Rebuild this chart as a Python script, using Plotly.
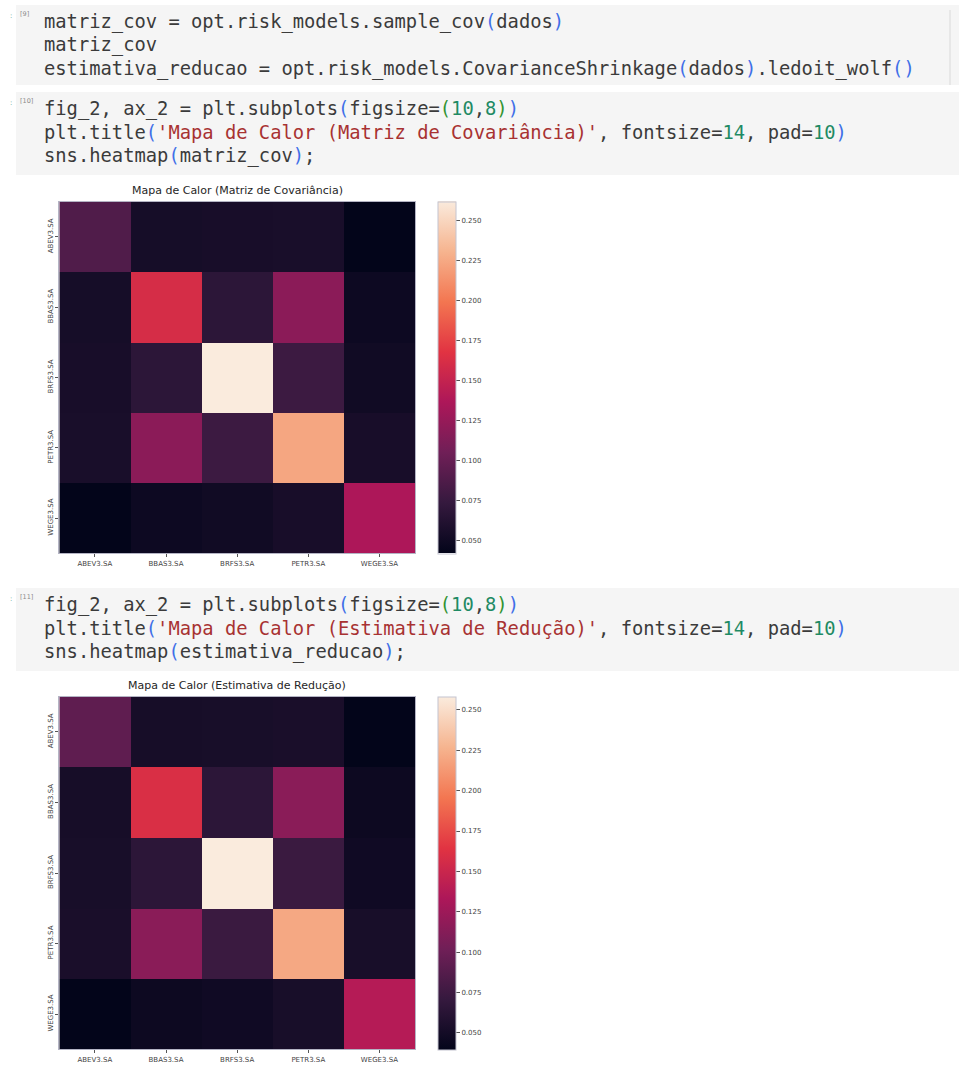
import plotly.graph_objects as go

W, H = 959, 1070

# ---- data -------------------------------------------------------------
tickers = ["ABEV3.SA", "BBAS3.SA", "BRFS3.SA", "PETR3.SA", "WEGE3.SA"]

# sample covariance (annualised)
cov_abev = [0.0880, 0.0540, 0.0550, 0.0560, 0.0419]
cov_bbas = [0.0540, 0.1605, 0.0680, 0.1187, 0.0485]
cov_brfs = [0.0550, 0.0680, 0.2619, 0.0770, 0.0507]
cov_petr = [0.0560, 0.1187, 0.0770, 0.2235, 0.0550]
cov_wege = [0.0419, 0.0485, 0.0507, 0.0550, 0.1365]

# Ledoit-Wolf shrinkage estimate
lw_abev = [0.0930, 0.0520, 0.0530, 0.0540, 0.0397]
lw_bbas = [0.0520, 0.1600, 0.0655, 0.1156, 0.0460]
lw_brfs = [0.0530, 0.0655, 0.2583, 0.0736, 0.0480]
lw_petr = [0.0540, 0.1156, 0.0736, 0.2210, 0.0530]
lw_wege = [0.0397, 0.0460, 0.0480, 0.0530, 0.1380]

cbar_ticks = [0.050, 0.075, 0.100, 0.125, 0.150, 0.175, 0.200, 0.225, 0.250]

matriz_cov = [cov_abev, cov_bbas, cov_brfs, cov_petr, cov_wege]
estimativa_reducao = [lw_abev, lw_bbas, lw_brfs, lw_petr, lw_wege]

# seaborn "rocket" colormap
rocket = [
    [0.000, "#03051a"],
    [0.143, "#35193e"],
    [0.286, "#701f57"],
    [0.429, "#ad1759"],
    [0.571, "#e13342"],
    [0.714, "#f37651"],
    [0.857, "#f6b48f"],
    [1.000, "#faebdd"],
]

# ---- helpers ----------------------------------------------------------
def px(x):
    return x / W


def py(y):
    return 1 - y / H


TXT = "#3b3b3b"
BLUE = "#3f6fe8"
GREEN = "#319331"
NUM = "#1f8a64"
RED = "#a83232"


def c(text, color):
    return f'<span style="color:{color}">{text}</span>'


fig = go.Figure()

# ---- heatmaps ---------------------------------------------------------
panels = [
    dict(z=matriz_cov, top=201.7, bottom=553.3, xa="x", ya="y",
         title="Mapa de Calor (Matriz de Covariância)", ty=190.5),
    dict(z=estimativa_reducao, top=696.7, bottom=1049.3, xa="x2", ya="y2",
         title="Mapa de Calor (Estimativa de Redução)", ty=685.0),
]

left, right = 59.3, 415.0
cb_left, cb_w = 437.5, 17.5
tick_font = dict(family="DejaVu Sans", size=7, color="#444444")

for i, p in enumerate(panels):
    zs = [v for row in p["z"] for v in row]
    fig.add_trace(go.Heatmap(
        z=p["z"], x=tickers, y=tickers,
        colorscale=rocket, zmin=min(zs), zmax=max(zs),
        xaxis=p["xa"], yaxis=p["ya"],
        colorbar=dict(
            x=px(cb_left), xanchor="left", xref="paper",
            y=py((p["top"] + p["bottom"]) / 2), yanchor="middle",
            len=(p["bottom"] - p["top"]) / H, lenmode="fraction",
            thickness=cb_w, thicknessmode="pixels",
            xpad=0, ypad=0,
            outlinewidth=1, outlinecolor="#c4c4d0",
            tickmode="array", tickvals=cbar_ticks,
            ticktext=[f"{t:.3f}" for t in cbar_ticks],
            ticks="outside", ticklen=4, tickcolor="#555555", tickwidth=1,
            tickfont=tick_font,
        ),
        hovertemplate="%{y} / %{x}: %{z:.4f}<extra></extra>",
    ))
    sfx = "" if i == 0 else "2"
    fig.update_layout(**{
        f"xaxis{sfx}": dict(
            domain=[px(left), px(right)], anchor=p["ya"],
            ticks="outside", ticklen=3, tickcolor="#555555",
            tickfont=tick_font, showgrid=False, zeroline=False,
            showline=True, mirror=True, linecolor="#b4b4c4", linewidth=1,
        ),
        f"yaxis{sfx}": dict(
            domain=[py(p["bottom"]), py(p["top"])], anchor=p["xa"],
            autorange="reversed", tickangle=-90,
            ticks="outside", ticklen=3, tickcolor="#555555",
            tickfont=tick_font, showgrid=False, zeroline=False,
            showline=True, mirror=True, linecolor="#b4b4c4", linewidth=1,
        ),
    })
    fig.add_annotation(
        text=p["title"], xref="paper", yref="paper",
        x=px((left + right) / 2), y=py(p["ty"]),
        xanchor="center", yanchor="middle", showarrow=False,
        font=dict(family="DejaVu Sans", size=11, color="#262626"),
    )

# ---- notebook code cells ---------------------------------------------
cells = [
    dict(top=5, bottom=85, prompt="[9]", lines=[
        "matriz_cov = opt.risk_models.sample_cov" + c("(", BLUE) + "dados" + c(")", BLUE),
        "matriz_cov",
        "estimativa_reducao = opt.risk_models.CovarianceShrinkage" + c("(", BLUE)
        + "dados" + c(")", BLUE) + ".ledoit_wolf" + c("()", BLUE),
    ]),
    dict(top=92, bottom=175, prompt="[10]", lines=[
        "fig_2, ax_2 = plt.subplots" + c("(", BLUE) + "figsize=" + c("(", GREEN)
        + c("10", NUM) + "," + c("8", NUM) + c(")", GREEN) + c(")", BLUE),
        "plt.title" + c("(", BLUE) + c("'Mapa de Calor (Matriz de Covariância)'", RED)
        + ", fontsize=" + c("14", NUM) + ", pad=" + c("10", NUM) + c(")", BLUE),
        "sns.heatmap" + c("(", BLUE) + "matriz_cov" + c(")", BLUE) + ";",
    ]),
    dict(top=588, bottom=671, prompt="[11]", lines=[
        "fig_2, ax_2 = plt.subplots" + c("(", BLUE) + "figsize=" + c("(", GREEN)
        + c("10", NUM) + "," + c("8", NUM) + c(")", GREEN) + c(")", BLUE),
        "plt.title" + c("(", BLUE) + c("'Mapa de Calor (Estimativa de Redução)'", RED)
        + ", fontsize=" + c("14", NUM) + ", pad=" + c("10", NUM) + c(")", BLUE),
        "sns.heatmap" + c("(", BLUE) + "estimativa_reducao" + c(")", BLUE) + ";",
    ]),
]

shapes = []
for cell in cells:
    shapes.append(dict(
        type="rect", xref="paper", yref="paper",
        x0=px(16), x1=1.0, y0=py(cell["bottom"]), y1=py(cell["top"]),
        fillcolor="#f5f5f5", line=dict(width=0), layer="below",
    ))
    first = cell["top"] + 17
    for k, line in enumerate(cell["lines"]):
        fig.add_annotation(
            text=line, xref="paper", yref="paper",
            x=px(42), y=py(first + 23.5 * k), xanchor="left", yanchor="middle",
            showarrow=False,
            font=dict(family="DejaVu Sans Mono", size=18.8, color=TXT),
        )
    fig.add_annotation(
        text=cell["prompt"], xref="paper", yref="paper",
        x=px(18), y=py(cell["top"] + 9), xanchor="left", yanchor="middle",
        showarrow=False, font=dict(family="DejaVu Sans", size=6.5, color="#8a8a8a"),
    )
    fig.add_annotation(
        text=":", xref="paper", yref="paper",
        x=px(11), y=py(cell["top"] + 11), xanchor="center", yanchor="middle",
        showarrow=False, font=dict(family="DejaVu Sans", size=7, color="#4a9a8a"),
    )

# thin scroll guide inside the first cell
shapes.append(dict(
    type="line", xref="paper", yref="paper",
    x0=px(950), x1=px(950), y0=py(85), y1=py(10),
    line=dict(color="#e2e2e2", width=1.5),
))

fig.update_layout(
    width=W, height=H,
    margin=dict(l=0, r=0, t=0, b=0),
    paper_bgcolor="white", plot_bgcolor="white",
    shapes=shapes, showlegend=False,
)

fig.write_html("out.html")
